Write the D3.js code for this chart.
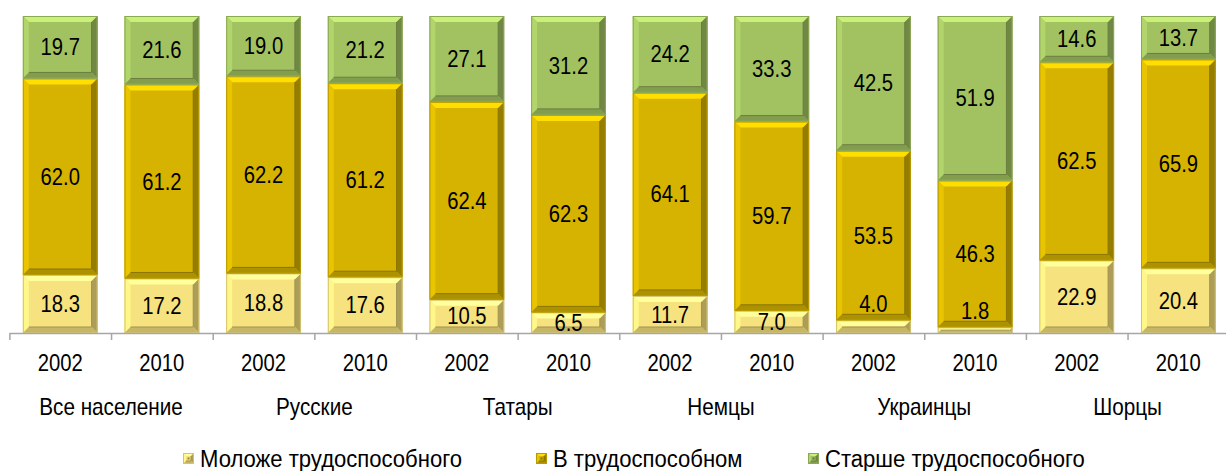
<!DOCTYPE html>
<html>
<head>
<meta charset="utf-8">
<script src="https://cdn.jsdelivr.net/npm/d3@7"></script>
<style>
  body { margin: 0; background: #fff; }
  text { font-family: "Liberation Sans Narrow", "Arial Narrow", "Liberation Sans", Arial, sans-serif; fill: #000; }
</style>
</head>
<body>
<div class="chart"></div>
<script>
// categories
var groups = ["Все население", "Русские", "Татары", "Немцы", "Украинцы", "Шорцы"];
var years = ["2002", "2010"];

// shares, % (bottom to top)
var younger = [18.3, 17.2, 18.8, 17.6, 10.5, 6.5, 11.7, 7.0, 4.0, 1.8, 22.9, 20.4];
var working = [62.0, 61.2, 62.2, 61.2, 62.4, 62.3, 64.1, 59.7, 53.5, 46.3, 62.5, 65.9];
var older   = [19.7, 21.6, 19.0, 21.2, 27.1, 31.2, 24.2, 33.3, 42.5, 51.9, 14.6, 13.7];

var seriesNames = ["Моложе трудоспособного", "В трудоспособном", "Старше трудоспособного"];
var seriesColors = ["#f6e27e", "#d5b300", "#a2c262"];

var width = 1226, height = 471;
var plot = {left: 9.4, right: 1229.2, top: 16, bottom: 333};

var svg = d3.select(".chart").append("svg")
  .attr("width", width)
  .attr("height", height);

// one entry per bar
var bars = [];
groups.forEach(function(g, gi) {
  years.forEach(function(y, yi) {
    var i = gi * years.length + yi;
    bars.push({key: i, group: g, year: y, values: [younger[i], working[i], older[i]]});
  });
});

var x = d3.scaleBand()
  .domain(bars.map(function(d) { return d.key; }))
  .range([plot.left, plot.right])
  .paddingInner(0.265)
  .paddingOuter(0.1325);

var xTicks = d3.scaleLinear().domain([0, bars.length]).range([plot.left, plot.right]);

var yScale = d3.scaleLinear().domain([0, 100]).range([plot.bottom, plot.top]);

var stack = d3.stack().keys([0, 1, 2]).value(function(d, k) { return d.values[k]; });
var layers = stack(bars);

function pts(arr) { return arr.map(function(p) { return p.join(","); }).join(" "); }

// narrow-looking text: the original font is condensed, so squeeze horizontally
function label(g, tx, ty, str, anchor, sx) {
  return g.append("text")
    .attr("transform", "translate(" + tx + "," + ty + ") scale(" + sx + ",1)")
    .attr("dy", "0.35em")
    .attr("text-anchor", anchor)
    .attr("font-size", "23px")
    .text(str);
}

function bevelBox(g, x0, y0, w, h, color, maxB) {
  var c = d3.color(color);
  var b = Math.min(maxB, h / 2, w / 2);
  g.append("rect").attr("x", x0).attr("y", y0).attr("width", w).attr("height", h)
    .attr("fill", color);
  g.append("polygon").attr("points", pts([[x0, y0], [x0 + w, y0], [x0 + w - b, y0 + b], [x0 + b, y0 + b]]))
    .attr("fill", c.brighter(0.6));
  g.append("polygon").attr("points", pts([[x0, y0], [x0 + b, y0 + b], [x0 + b, y0 + h - b], [x0, y0 + h]]))
    .attr("fill", c.brighter(0.25));
  g.append("polygon").attr("points", pts([[x0 + w, y0], [x0 + w, y0 + h], [x0 + w - b, y0 + h - b], [x0 + w - b, y0 + b]]))
    .attr("fill", c.darker(1.0));
  g.append("polygon").attr("points", pts([[x0, y0 + h], [x0 + w, y0 + h], [x0 + w - b, y0 + h - b], [x0 + b, y0 + h - b]]))
    .attr("fill", c.darker(0.6));
  // inner crease
  if (b > 2) {
    g.append("polyline").attr("points", pts([[x0 + b, y0 + h - b], [x0 + w - b, y0 + h - b], [x0 + w - b, y0 + b]]))
      .attr("fill", "none").attr("stroke", c.darker(1.2)).attr("stroke-width", 1);
  }
  g.append("rect").attr("x", x0 + 0.5).attr("y", y0 + 0.5).attr("width", w - 1).attr("height", Math.max(0, h - 1))
    .attr("fill", "none").attr("stroke", c.darker(0.4)).attr("stroke-width", 1);
}

// bars
var barLayer = svg.append("g").attr("class", "bars");
layers.forEach(function(layer, k) {
  layer.forEach(function(seg) {
    var d = seg.data;
    var y0 = yScale(seg[1]), y1 = yScale(seg[0]);
    var g = barLayer.append("g");
    bevelBox(g, x(d.key), y0, x.bandwidth(), y1 - y0, seriesColors[k], 6);
  });
});

// value labels
var labelLayer = svg.append("g").attr("class", "labels");
layers.forEach(function(layer, k) {
  layer.forEach(function(seg) {
    var d = seg.data;
    var y0 = yScale(seg[1]), y1 = yScale(seg[0]);
    var cy = (y0 + y1) / 2;
    if (y1 - y0 < 15) cy = y0 - 16;   // too thin: lift label above the segment
    label(labelLayer, x(d.key) + x.bandwidth() / 2, cy, d3.format(".1f")(d.values[k]), "middle", 0.88);
  });
});

// x axis: ticks between bars
var axis = d3.axisBottom(xTicks)
  .tickValues(d3.range(bars.length + 1))
  .tickSize(7)
  .tickSizeOuter(0)
  .tickFormat("");

var axisG = svg.append("g")
  .attr("transform", "translate(0," + plot.bottom + ")")
  .call(axis);
axisG.select(".domain").attr("stroke", "#a6a6a6").attr("stroke-width", 1.5);
axisG.selectAll(".tick line").attr("stroke", "#a6a6a6").attr("stroke-width", 1.5);

// year labels
var yearG = svg.append("g");
bars.forEach(function(d) {
  label(yearG, x(d.key) + x.bandwidth() / 2, 363, d.year, "middle", 0.88);
});

// group labels
var groupG = svg.append("g");
groups.forEach(function(name, i) {
  label(groupG, xTicks(i * years.length + years.length / 2), 407, name, "middle", 0.9);
});

// legend
var legendX = [183, 536, 808];
var legend = svg.append("g").attr("class", "legend");
seriesNames.forEach(function(name, k) {
  var g = legend.append("g");
  bevelBox(g, legendX[k], 453, 11, 11, seriesColors[k], 3);
  g.append("rect").attr("x", legendX[k] + 4.5).attr("y", 457.5).attr("width", 2).attr("height", 2)
    .attr("fill", d3.color(seriesColors[k]).darker(1.5));
  label(g, legendX[k] + 17, 458.5, name, "start", 0.96);
});
</script>
</body>
</html>
